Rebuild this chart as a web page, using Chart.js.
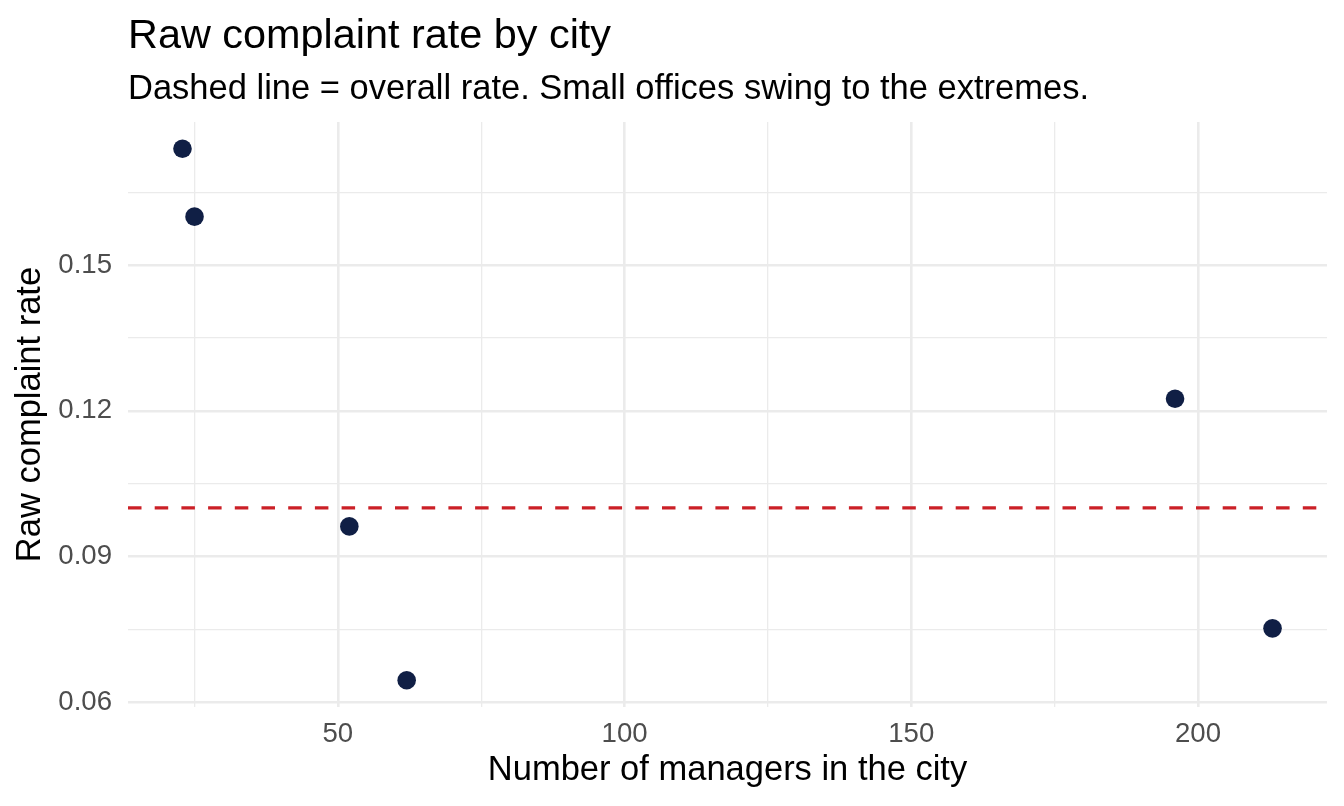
<!DOCTYPE html>
<html>
<head>
<meta charset="utf-8">
<script src="https://cdn.jsdelivr.net/npm/chart.js@4/dist/chart.umd.min.js"></script>
<style>
  html, body { margin: 0; padding: 0; background: #ffffff; }
  #wrap { width: 1344px; height: 806px; }
</style>
</head>
<body>
<div id="wrap"><canvas id="chart" width="1344" height="806"></canvas></div>
<script>
// data
const managers = [22.9, 25.0, 52.0, 62.0, 196.0, 213.0];
const complaintRate = [0.174, 0.160, 0.0962, 0.0645, 0.1225, 0.0752];
const overallRate = 0.1;

// axis ranges and ticks (ggplot style: major + minor breaks)
const xRange = [13.4, 222.5];
const yRange = [0.059, 0.1795];
const xTicks = [25, 50, 75, 100, 125, 150, 175, 200];
const xTickLabels = ['', '50', '', '100', '', '150', '', '200'];
const yTicks = [0.06, 0.075, 0.09, 0.105, 0.12, 0.135, 0.15, 0.165];
const yTickLabels = ['0.06', '', '0.09', '', '0.12', '', '0.15', ''];

const titleText = 'Raw complaint rate by city';
const subtitleText = 'Dashed line = overall rate. Small offices swing to the extremes.';

const FONT = "'Liberation Sans', Arial, Helvetica, sans-serif";
const GRID = '#EBEBEB';

// title + subtitle aligned to the panel's left edge, like ggplot
const titlePlugin = {
  id: 'panelTitle',
  afterDraw(chart) {
    const ctx = chart.ctx;
    const left = chart.chartArea.left;
    ctx.save();
    ctx.textAlign = 'left';
    ctx.textBaseline = 'alphabetic';
    ctx.fillStyle = '#000000';
    ctx.font = '41.4px ' + FONT;
    ctx.fillText(titleText, left, 48);
    ctx.font = '34.5px ' + FONT;
    ctx.fillText(subtitleText, left, 98.5);
    ctx.restore();
  }
};

const ctx = document.getElementById('chart').getContext('2d');
new Chart(ctx, {
  type: 'scatter',
  data: {
    datasets: [
      {
        label: 'Cities',
        data: managers.map((m, i) => ({ x: m, y: complaintRate[i] })),
        backgroundColor: '#101F45',
        borderWidth: 0,
        pointRadius: 9.3,
        pointHoverRadius: 9.3,
        order: 1
      },
      {
        type: 'line',
        label: 'Overall rate',
        data: [{ x: xRange[0], y: overallRate }, { x: xRange[1], y: overallRate }],
        borderColor: '#CB2027',
        borderWidth: 3.2,
        borderDash: [13.5, 13.2],
        pointRadius: 0,
        fill: false,
        order: 2
      }
    ]
  },
  options: {
    responsive: false,
    animation: false,
    devicePixelRatio: 1,
    layout: { padding: { top: 122, right: 17, left: 0, bottom: 0 } },
    plugins: {
      legend: { display: false },
      tooltip: { enabled: false },
      title: { display: false }
    },
    scales: {
      x: {
        type: 'linear',
        min: xRange[0],
        max: xRange[1],
        afterBuildTicks: axis => { axis.ticks = xTicks.map(v => ({ value: v })); },
        afterFit: axis => { axis.height = 99; },
        border: { display: false },
        grid: {
          color: GRID,
          lineWidth: c => (c.index % 2 === 1 ? 2.6 : 1.3),
          drawTicks: false
        },
        ticks: {
          autoSkip: false,
          maxRotation: 0,
          padding: 11,
          color: '#4D4D4D',
          font: { family: FONT, size: 27.6 },
          callback: (v, i) => xTickLabels[i]
        },
        title: {
          display: true,
          text: 'Number of managers in the city',
          color: '#000000',
          font: { family: FONT, size: 34.5 },
          padding: { top: 0, bottom: 15 }
        }
      },
      y: {
        type: 'linear',
        min: yRange[0],
        max: yRange[1],
        afterBuildTicks: axis => { axis.ticks = yTicks.map(v => ({ value: v })); },
        afterFit: axis => { axis.width = 128; },
        border: { display: false },
        grid: {
          color: GRID,
          lineWidth: c => (c.index % 2 === 0 ? 2.6 : 1.3),
          drawTicks: false
        },
        ticks: {
          autoSkip: false,
          padding: 16,
          color: '#4D4D4D',
          font: { family: FONT, size: 27.6 },
          callback: (v, i) => yTickLabels[i]
        },
        title: {
          display: true,
          text: 'Raw complaint rate',
          color: '#000000',
          font: { family: FONT, size: 34.5 },
          padding: { top: 10, bottom: 0 }
        }
      }
    }
  },
  plugins: [titlePlugin]
});
</script>
</body>
</html>
